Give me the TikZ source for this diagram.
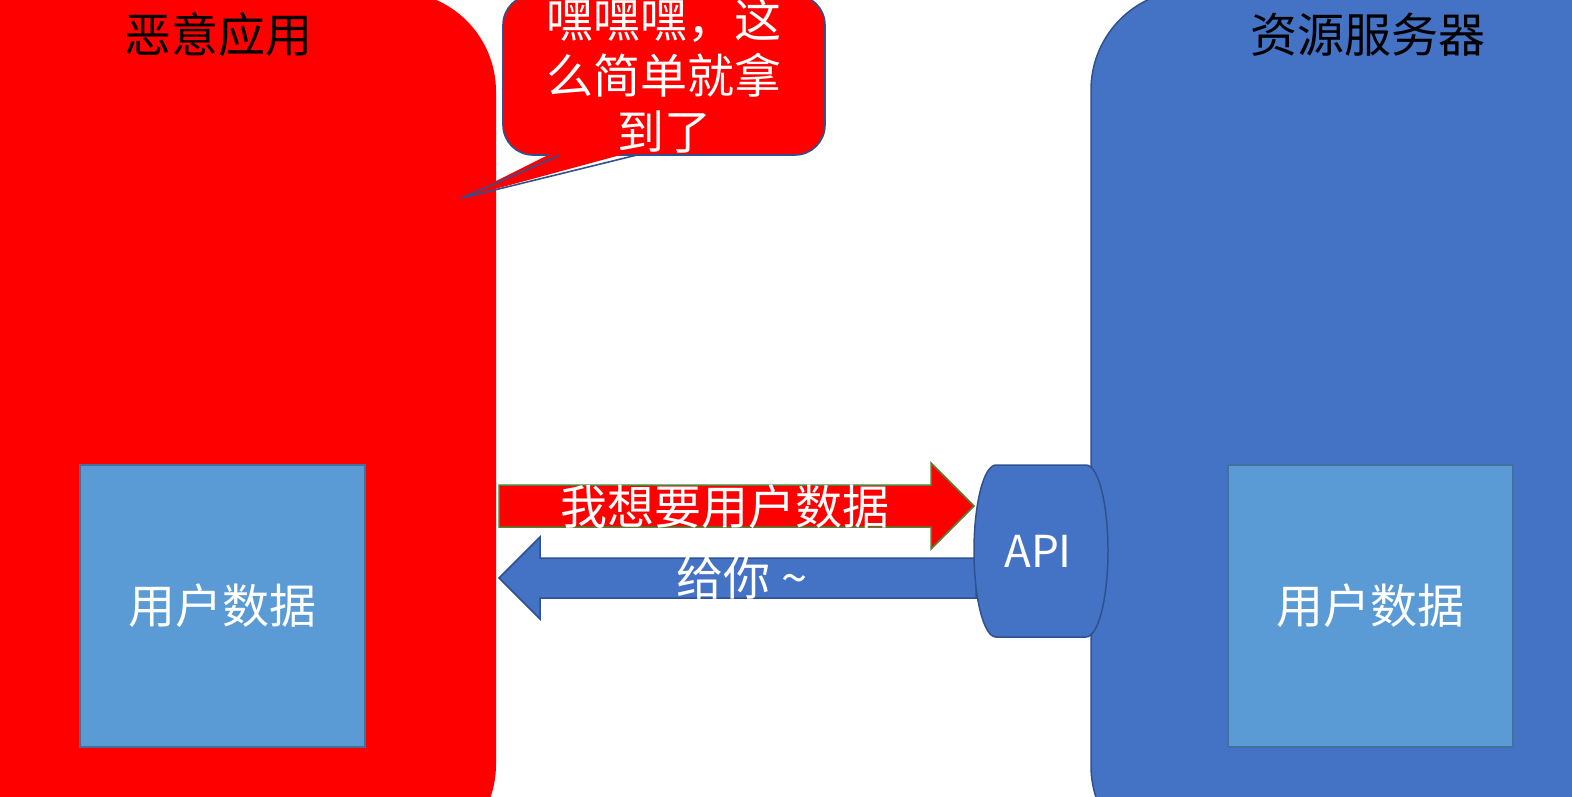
\documentclass[tikz,border=0pt]{standalone}
\usepackage{fontspec}
\setmainfont{Noto Sans CJK SC}
\definecolor{cred}{HTML}{FF0000}
\definecolor{cblue}{HTML}{4472C4}
\definecolor{cblueedge}{HTML}{2F528F}
\definecolor{cdata}{HTML}{5B9BD5}
\definecolor{cdataedge}{HTML}{41719C}
\definecolor{cgreen}{HTML}{538135}
\begin{document}
\begin{tikzpicture}[x=1pt,y=-1pt,
  every node/.style={inner sep=0pt,outer sep=0pt,font=\fontsize{47pt}{56pt}\selectfont},
  bigbox/.style={rectangle,rounded corners=100pt},
  databox/.style={rectangle,fill=cdata,draw=cdataedge,line width=2pt,
                  minimum width=285pt,minimum height=282pt,text=white},
  bubble/.style={rectangle,rounded corners=30pt,fill=cred,draw=cblueedge,line width=1.6pt,
                 minimum width=322pt,minimum height=160pt,text=white,align=center},
  redarrow/.style={fill=cred,draw=cgreen,line width=1.5pt},
  bluearrow/.style={fill=cblue,draw=cblueedge,line width=1.5pt},
  apishape/.style={fill=cblue,draw=cblueedge,line width=1.5pt},
  title/.style={text=black},
  wtext/.style={text=white}]
\useasboundingbox (0,0) rectangle (1572,796);
\clip (0,0) rectangle (1572,796);
% big boxes
\node[bigbox,fill=cred,minimum width=696pt,minimum height=873pt] (mal) at (148,428) {};
\node[bigbox,fill=cblue,draw=cblueedge,line width=1.5pt,minimum width=709pt,minimum height=876pt] (srv) at (1445.5,428) {};
\node[title] (maltitle) at (218,35) {恶意应用};
\node[title] (srvtitle) at (1368,35) {资源服务器};
% data boxes
\node[databox] (data1) at (222.5,606) {用户数据};
\node[databox] (data2) at (1370,606) {用户数据};
% speech bubble
\node[bubble] (bub) at (664,75) {嘿嘿嘿，这\\么简单就拿\\到了};
\coordinate (tip) at (462,198);
\coordinate (ta) at (560,155);
\coordinate (tb) at (637,155);
\fill[cred] (558,150) -- (tip) -- (639,150) -- cycle;
\draw[cblueedge,line width=1.6pt,line join=miter] (ta) -- (tip) -- (tb);
% arrows
\draw[redarrow] (499,485) -- (931,485) -- (931,463) -- (974,506) -- (931,549) -- (931,527) -- (499,527) -- cycle;
\draw[bluearrow] (976,558) -- (540,558) -- (540,537) -- (499,578) -- (540,619) -- (540,598) -- (976,598) -- cycle;
\node[wtext] (req) at (725,507) {我想要用户数据};
\node[wtext] (resp) at (742,578) {给你 \char"007E};
% API
\draw[apishape] (996,465) -- (1086,465)
  .. controls (1098.2,465) and (1108,503.5) .. (1108,551)
  .. controls (1108,598.5) and (1098.2,637) .. (1086,637)
  -- (996,637)
  .. controls (983.8,637) and (974,598.5) .. (974,551)
  .. controls (974,503.5) and (983.8,465) .. (996,465) -- cycle;
\node[wtext,font=\fontsize{44pt}{50pt}\selectfont] (api) at (1038,551) {API};
\end{tikzpicture}
\end{document}
